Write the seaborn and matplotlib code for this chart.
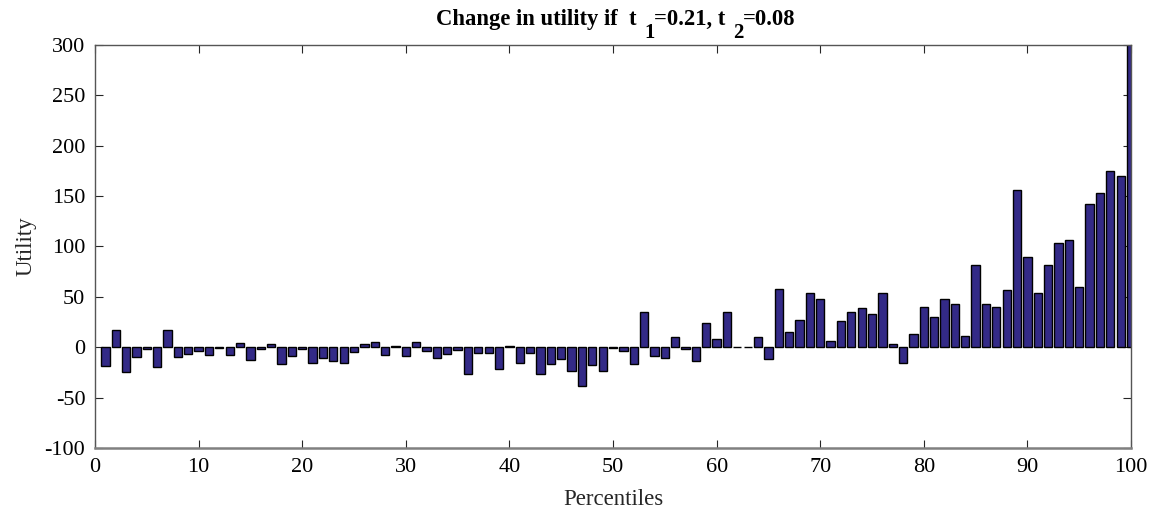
import numpy as np
import pandas as pd
import matplotlib
matplotlib.use("Agg")
import matplotlib.pyplot as plt
from matplotlib.transforms import IdentityTransform
import seaborn as sns

percentiles = list(range(1, 101))
utility = [
    -19, 17, -25, -10, -2, -20, 17, -10, -7, -4,
    -8, -1, -8, 4, -13, -2, 3, -17, -9, -2,
    -16, -11, -14, -16, -5, 3, 5, -8, 1, -9,
    5, -4, -11, -7, -3, -27, -6, -6, -22, 1,
    -16, -6, -27, -17, -12, -24, -38, -18, -24, -0.5,
    -4, -17, 35, -9, -11, 10.5, -2, -13.5, 24, 8,
    35, 0.5, 0.5, 10.5, -11.5, 58, 15, 27, 53.5, 47.5,
    6, 26, 35, 39, 32.5, 53.5, 3.3, -15.5, 13, 40,
    30, 48, 42.6, 11, 82, 42.6, 40, 56.4, 156, 89.4,
    54, 82, 103, 106, 59.4, 142, 153.5, 175, 170, 320,
]
x_ticks = [0, 10, 20, 30, 40, 50, 60, 70, 80, 90, 100]
y_ticks = [-100, -50, 0, 50, 100, 150, 200, 250, 300]
title_parts = ["Change in utility if  t", "1", "=0.21, t", "2", "=0.08"]

df = pd.DataFrame({"Percentiles": percentiles, "Utility": utility})

sns.set_theme(style="white")
plt.rcParams["font.family"] = ["Liberation Serif", "DejaVu Serif"]

fig = plt.figure(figsize=(11.56, 5.16), dpi=100)
ax = fig.add_axes([0.0822, 0.1318, 0.8962, 0.781])

sns.barplot(data=df, x="Percentiles", y="Utility", native_scale=True,
            width=0.8, color="#332a87", saturation=1, edgecolor="black",
            linewidth=1.0, ax=ax)

ax.set_xlim(0, 100)
ax.set_ylim(-100, 300)
ax.set_xticks(x_ticks)
ax.set_yticks(y_ticks)
ax.set_xticklabels([str(t) for t in x_ticks])
ax.set_yticklabels([str(t) for t in y_ticks])
ax.tick_params(axis="both", direction="in", length=6, width=0.8, color="#262626",
               labelsize=16, top=True, right=True, bottom=True, left=True,
               labelcolor="black", pad=7)
for s in ax.spines.values():
    s.set_visible(True)
    s.set_color("#555555")
    s.set_linewidth(1.0)
ax.spines["bottom"].set_linewidth(1.8)
ax.spines["bottom"].set_color("#808080")

ax.set_xlabel("Percentiles", fontsize=16.5, labelpad=9)
ax.set_ylabel("Utility", fontsize=16.5, labelpad=6)

# Title built from pieces so subscripts are lowered, full-size digits (as in reference)
renderer = fig.canvas.get_renderer()
H = 516
main_base = H - 25
sub_base = H - 38
specs = [
    (title_parts[0], main_base, 16.3, 0),
    (title_parts[1], sub_base, 15.0, 7),
    (title_parts[2], main_base, 16.3, 0),
    (title_parts[3], sub_base, 15.0, 7),
    (title_parts[4], main_base, 16.3, 0),
]
texts = []
widths = []
for s, yb, fs, gap in specs:
    t = fig.text(0, yb, s, transform=IdentityTransform(), fontsize=fs,
                 fontweight="bold", va="baseline", ha="left", color="black")
    texts.append(t)
    widths.append(t.get_window_extent(renderer).width)
total = sum(widths) + sum(g for _, _, _, g in specs)
x = 616 - total / 2
for t, w, (s, yb, fs, gap) in zip(texts, widths, specs):
    x += gap
    t.set_position((x, yb))
    x += w

fig.savefig("out.png", dpi=100)
